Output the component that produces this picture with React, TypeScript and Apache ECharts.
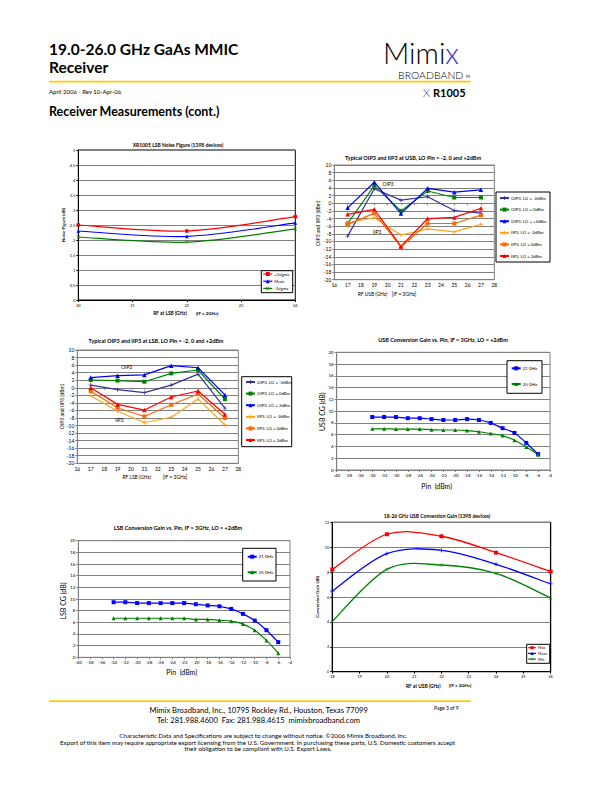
import React, { useEffect, useRef } from "react";
import * as echarts from "echarts";

// ---------- Chart 1: LSB Noise Figure ----------
const nfFreq = [20, 22, 24];
const nfPlus3 = [2.5, 2.3, 2.78];
const nfMean = [2.3, 2.12, 2.57];
const nfMinus3 = [2.1, 1.93, 2.37];

// ---------- Chart 2: USB OIP3 / IIP3 ----------
const ipFreq = [17, 19, 21, 23, 25, 27];
const usbOip3Lom2 = [-8.6, 3.8, 0.8, 1.7, -1.9, -2.6];
const usbOip3Lo0 = [-5.3, 4.6, -2.0, 3.2, 1.5, 1.5];
const usbOip3Lop2 = [-1.2, 5.5, -2.7, 3.9, 2.9, 3.5];
const usbIip3Lom2 = [-5.1, -3.8, -8.3, -6.7, -7.5, -5.5];
const usbIip3Lo0 = [-5.6, -2.6, -11.4, -5.3, -5.3, -3.1];
const usbIip3Lop2 = [-2.9, -1.6, -11.3, -4.0, -3.7, -1.3];

// ---------- Chart 3: LSB OIP3 / IIP3 ----------
const lsbOip3Lom2 = [0.7, -0.5, -1.3, 0.7, 3.6, -5.4];
const lsbOip3Lo0 = [2.05, 1.9, 1.6, 3.8, 4.7, -3.0];
const lsbOip3Lop2 = [2.7, 3.2, 3.4, 5.85, 5.3, -1.9];
const lsbIip3Lom2 = [-2.1, -6.2, -9.2, -7.8, -3.0, -9.8];
const lsbIip3Lo0 = [-0.9, -5.3, -7.6, -4.5, -1.65, -8.0];
const lsbIip3Lop2 = [0.0, -4.4, -5.9, -2.45, -0.85, -7.0];

// ---------- Chart 4 / 5: Conversion gain vs Pin ----------
const pinDbm = [-34, -32, -30, -28, -26, -24, -22, -20, -18, -16, -14, -12, -10, -8, -6];
const usbCg21 = [9.0, 9.0, 9.0, 8.8, 8.8, 8.65, 8.5, 8.5, 8.65, 8.5, 8.0, 7.1, 6.3, 4.6, 2.7];
const usbCg25 = [7.0, 7.0, 6.95, 6.95, 6.95, 6.85, 6.8, 6.8, 6.7, 6.5, 6.2, 5.85, 5.05, 3.9, 2.6];
const lsbCg21 = [9.45, 9.45, 9.3, 9.3, 9.3, 9.3, 9.3, 9.1, 8.9, 8.75, 8.3, 7.45, 6.3, 4.65, 2.6];
const lsbCg25 = [6.7, 6.7, 6.7, 6.7, 6.7, 6.7, 6.7, 6.5, 6.5, 6.35, 6.2, 5.7, 4.65, 2.9, 0.7];

// ---------- Chart 6: USB conversion gain (1398 devices) ----------
const cgFreq = [18, 20, 22, 24, 26];
const cgMax = [8.22, 11.04, 10.88, 9.56, 8.05];
const cgMean = [6.48, 9.48, 9.75, 8.63, 7.05];
const cgMin = [4.04, 8.22, 8.57, 7.9, 5.92];

const FONT = "Lato, 'Open Sans', sans-serif";
const PLUS = "path://M4,0H6V4H10V6H6V10H4V6H0V4H4Z";
const XMARK = "path://M0,1L1,0L5,4L9,0L10,1L6,5L10,9L9,10L5,6L1,10L0,9L4,5Z";

const C_SLATE = "#333399";
const C_GREEN = "#008000";
const C_BLUE = "#0000FF";
const C_YEL = "#FFA31A";
const C_ORG = "#FF6600";
const C_RED = "#FF0000";

function pairs(xs: number[], ys: number[]) {
  return xs.map((x, i) => [x, ys[i]]);
}

function txt(text: string, x: number, y: number, size: number, opts: any = {}) {
  const align = opts.align || "center";
  return {
    type: "text",
    x,
    y,
    rotation: opts.rotation || 0,
    z: 10,
    style: {
      text,
      x: 0,
      y: 0,
      fill: opts.color || "#000",
      fontSize: size,
      fontFamily: opts.family || FONT,
      fontWeight: opts.weight || "normal",
      align,
      textAlign: align,
      verticalAlign: "middle",
      textVerticalAlign: "middle",
      lineHeight: opts.lineHeight,
      rich: opts.rich,
    },
  };
}

function box(x: number, y: number, w: number, h: number) {
  return {
    type: "rect",
    z: 3,
    shape: { x, y, width: w, height: h },
    style: { fill: "#fff", stroke: "#000", lineWidth: 1 },
  };
}

function xAx(gi: number, min: number, max: number, interval: number, fs: number, color: string) {
  return {
    gridIndex: gi,
    type: "value",
    min,
    max,
    interval,
    axisLine: { show: true, lineStyle: { color, width: 1 } },
    axisTick: { show: true, length: 2, lineStyle: { color } },
    axisLabel: { fontSize: fs, color: "#000", margin: 3, fontFamily: FONT },
    splitLine: { show: false },
  };
}

function yAx(gi: number, min: number, max: number, interval: number, fs: number, color: string, gridColor: string) {
  return {
    gridIndex: gi,
    type: "value",
    min,
    max,
    interval,
    axisLine: { show: true, lineStyle: { color, width: 1 } },
    axisTick: { show: true, length: 2, lineStyle: { color } },
    axisLabel: { fontSize: fs, color: "#000", margin: 3, fontFamily: FONT },
    splitLine: { show: true, lineStyle: { color: gridColor, width: 1 } },
  };
}

function line(name: string, gi: number, xs: number[], ys: number[], color: string, symbol: string, size: number, smooth: any = false, width = 1.2, hideLine = false) {
  return {
    name,
    type: "line",
    xAxisIndex: gi,
    yAxisIndex: gi,
    data: pairs(xs, ys),
    smooth,
    symbol,
    symbolSize: size,
    showSymbol: true,
    z: 3,
    lineStyle: { color, width, opacity: hideLine ? 0 : 1 },
    itemStyle: { color, borderWidth: 0 },
  };
}

// Excel-style smoothed curve (Catmull-Rom through the data points), drawn via the axes' scales
function spline(gi: number, xs: number[], ys: number[], color: string, width = 1.2) {
  return {
    type: "custom",
    coordinateSystem: "cartesian2d",
    xAxisIndex: gi,
    yAxisIndex: gi,
    data: [[xs[0], ys[0]]],
    silent: true,
    z: 2,
    renderItem: (_params: any, api: any) => {
      const pts = xs.map((x, i) => api.coord([x, ys[i]]));
      let d = `M${pts[0][0]},${pts[0][1]}`;
      for (let i = 0; i < pts.length - 1; i++) {
        const p0 = pts[i - 1] || pts[i];
        const p1 = pts[i];
        const p2 = pts[i + 1];
        const p3 = pts[i + 2] || pts[i + 1];
        const c1x = p1[0] + (p2[0] - p0[0]) / 6;
        const c1y = p1[1] + (p2[1] - p0[1]) / 6;
        const c2x = p2[0] - (p3[0] - p1[0]) / 6;
        const c2y = p2[1] - (p3[1] - p1[1]) / 6;
        d += ` C${c1x},${c1y} ${c2x},${c2y} ${p2[0]},${p2[1]}`;
      }
      return {
        type: "path",
        shape: { pathData: d },
        style: { stroke: color, fill: "none", lineWidth: width },
      };
    },
  };
}

function leg(left: number, top: number, names: any[], ih: number, gap: number, fs: number, iw = 9) {
  return {
    left,
    top,
    orient: "vertical",
    data: names,
    itemWidth: iw,
    itemHeight: ih,
    itemGap: gap,
    padding: 0,
    selectedMode: false,
    z: 5,
    textStyle: { fontSize: fs, fontFamily: FONT, color: "#000", lineHeight: ih, padding: [0, 0, 0, -3] },
  };
}

function legItem(name: string, color: string) {
  return { name, lineStyle: { opacity: 1, color, width: 1.2 } };
}

const usbIpNames = ["OIP3, LO = -2dBm", "OIP3, LO = 0dBm", "OIP3, LO = +2dBm", "IIP3, LO = -2dBm", "IIP3, LO = 0dBm", "IIP3, LO = 2dBm"];
const lsbIpNames = ["OIP3, LO = -2dBm", "OIP3, LO = 0dBm", "OIP3, LO = 2dBm", "IIP3, LO = -2dBm", "IIP3, LO = 0dBm", "IIP3, LO = 2dBm"];

export default function App() {
  const ref = useRef<HTMLDivElement>(null);
  useEffect(() => {
    if (!ref.current) return;
    const chart = echarts.init(ref.current, undefined, { renderer: "svg" });
    const option: any = {
      animation: false,
      backgroundColor: "#fff",
      grid: [
        { left: 78.3, top: 150, width: 217, height: 150, show: true, borderColor: "#000", borderWidth: 1 },
        { left: 334.3, top: 165, width: 160, height: 114.7, show: true, borderColor: "#808080", borderWidth: 1 },
        { left: 77.3, top: 350, width: 161, height: 113.3, show: true, borderColor: "#808080", borderWidth: 1 },
        { left: 336.7, top: 352.3, width: 213.3, height: 117.7, show: true, borderColor: "#808080", borderWidth: 1 },
        { left: 78.3, top: 540.7, width: 211.7, height: 116.6, show: true, borderColor: "#808080", borderWidth: 1 },
        { left: 332.3, top: 522.3, width: 218.3, height: 149.4, show: true, borderColor: "#000", borderWidth: 1.3 },
      ],
      xAxis: [
        xAx(0, 20, 24, 1, 4, "#000"),
        xAx(1, 16, 28, 1, 5, "#808080"),
        xAx(2, 16, 28, 1, 5, "#808080"),
        xAx(3, -40, -4, 2, 4.5, "#808080"),
        xAx(4, -40, -4, 2, 4.5, "#808080"),
        xAx(5, 18, 26, 1, 4, "#000"),
      ],
      yAxis: [
        yAx(0, 0, 5, 0.5, 4, "#000", "#808080"),
        yAx(1, -20, 10, 2, 5, "#808080", "#808080"),
        yAx(2, -20, 10, 2, 5, "#808080", "#808080"),
        yAx(3, 0, 20, 2, 4.5, "#808080", "#808080"),
        yAx(4, 0, 20, 2, 4.5, "#808080", "#808080"),
        yAx(5, 0, 12, 2, 4, "#000", "#808080"),
      ],
      legend: [
        leg(262.7, 271.5, [legItem("+3sigma", C_RED), legItem("Mean", C_BLUE), legItem("-3sigma", C_GREEN)], 5, 2.2, 4),
        leg(499, 195.5, usbIpNames, 5, 6.6, 4.3),
        leg(245, 379.5, lsbIpNames, 5, 6.6, 4.3),
        leg(510.7, 365.8, ["21 GHz", "25 GHz"], 5, 10.7, 4.3),
        leg(246.7, 554.2, ["21 GHz", "25 GHz"], 5, 10.6, 4.3),
        leg(527.5, 645.7, [legItem("Max", C_RED), legItem("Mean", C_BLUE), legItem("Min", C_GREEN)], 4, 1.7, 3.6, 8),
      ],
      series: [
        spline(0, nfFreq, nfPlus3, C_RED),
        spline(0, nfFreq, nfMean, C_BLUE),
        spline(0, nfFreq, nfMinus3, C_GREEN),
        line("+3sigma", 0, nfFreq, nfPlus3, C_RED, "rect", 3.5, false, 1.2, true),
        line("Mean", 0, nfFreq, nfMean, C_BLUE, "triangle", 3.5, false, 1.2, true),
        line("-3sigma", 0, nfFreq, nfMinus3, C_GREEN, XMARK, 3.5, false, 1.2, true),

        line("OIP3, LO = -2dBm", 1, ipFreq, usbOip3Lom2, C_SLATE, PLUS, 4),
        line("OIP3, LO = 0dBm", 1, ipFreq, usbOip3Lo0, C_GREEN, "rect", 4),
        line("OIP3, LO = +2dBm", 1, ipFreq, usbOip3Lop2, C_BLUE, "triangle", 4.5),
        line("IIP3, LO = -2dBm", 1, ipFreq, usbIip3Lom2, C_YEL, PLUS, 4),
        line("IIP3, LO = 0dBm", 1, ipFreq, usbIip3Lo0, C_ORG, "rect", 4),
        line("IIP3, LO = 2dBm", 1, ipFreq, usbIip3Lop2, C_RED, "triangle", 4.5),

        line("OIP3, LO = -2dBm", 2, ipFreq, lsbOip3Lom2, C_SLATE, PLUS, 4),
        line("OIP3, LO = 0dBm", 2, ipFreq, lsbOip3Lo0, C_GREEN, "rect", 4),
        line("OIP3, LO = 2dBm", 2, ipFreq, lsbOip3Lop2, C_BLUE, "triangle", 4.5),
        line("IIP3, LO = -2dBm", 2, ipFreq, lsbIip3Lom2, C_YEL, PLUS, 4),
        line("IIP3, LO = 0dBm", 2, ipFreq, lsbIip3Lo0, C_ORG, "rect", 4),
        line("IIP3, LO = 2dBm", 2, ipFreq, lsbIip3Lop2, C_RED, "triangle", 4.5),

        line("21 GHz", 3, pinDbm, usbCg21, C_BLUE, "rect", 4, 0.3),
        line("25 GHz", 3, pinDbm, usbCg25, C_GREEN, "triangle", 4, 0.3),
        line("21 GHz", 4, pinDbm, lsbCg21, C_BLUE, "rect", 4, 0.3),
        line("25 GHz", 4, pinDbm, lsbCg25, C_GREEN, "triangle", 4, 0.3),

        spline(5, cgFreq, cgMax, C_RED, 1.3),
        spline(5, cgFreq, cgMean, C_BLUE, 1.3),
        spline(5, cgFreq, cgMin, C_GREEN, 1.3),
        line("Max", 5, cgFreq, cgMax, C_RED, "rect", 4, false, 1.2, true),
        line("Mean", 5, cgFreq, cgMean, C_BLUE, PLUS, 4, false, 1.2, true),
        line("Min", 5, cgFreq, cgMin, C_GREEN, XMARK, 3.5, false, 1.2, true),
      ],
      graphic: [
        // header
        txt("19.0-26.0 GHz GaAs MMIC", 49, 49, 15.5, { align: "left", weight: "bold" }),
        txt("Receiver", 49, 66.5, 15.5, { align: "left", weight: "bold" }),
        { type: "rect", z: 2, shape: { x: 49, y: 80.8, width: 421.7, height: 1.8 }, style: { fill: "#FFCC00" } },
        txt("April 2006 - Rev 10-Apr-06", 49, 91.7, 6, { align: "left" }),
        txt("Receiver Measurements (cont.)", 49, 111.7, 12.5, { align: "left", weight: "bold" }),
        txt("{a|Mimi}{b|x}", 383, 52, 29, {
          align: "left",
          lineHeight: 20,
          rich: {
            a: { fontSize: 29, fontWeight: 300, fontFamily: FONT, fill: "#000", color: "#000", lineHeight: 20 },
            b: { fontSize: 29, fontWeight: 300, fontFamily: FONT, fill: "#3333CC", color: "#3333CC", lineHeight: 20 },
          },
        }),
        txt("BROADBAND", 398, 74.8, 10.5, { align: "left", weight: 300, lineHeight: 9 }),
        txt("TM", 465.5, 76.5, 3, { align: "left" }),
        txt("X", 422.7, 92.3, 12, { align: "left", weight: 300, color: "#3333CC" }),
        txt("R1005", 433, 92.3, 11, { align: "left", weight: "bold" }),

        // chart 1
        txt("XR1005 LSB Noise Figure (1398 devices)", 178, 145, 5, { weight: "bold" }),
        txt("Noise Figure (dB)", 63, 225, 4.5, { weight: "bold", rotation: Math.PI / 2 }),
        txt("RF at LSB (GHz)", 170, 313.3, 4.8, { weight: "bold" }),
        txt("[IF = 2GHz]", 207, 313, 4.5, { weight: "bold" }),
        box(261.3, 270.7, 31.4, 22),

        // chart 2
        txt("Typical OIP3 and IIP3 at USB, LO Pin = -2, 0 and +2dBm", 413, 158.3, 5.5, { weight: "bold" }),
        txt("OIP3 and IIP3 (dBm)", 318, 223.3, 5.1, { rotation: Math.PI / 2 }),
        txt("RF USB (GHz)", 372.5, 294, 4.9),
        txt("[IF = 3GHz]", 404, 294, 4.9),
        txt("OIP3", 388, 184.3, 4.8),
        txt("IIP3", 377, 232.3, 4.8),
        box(496, 192, 54, 70),

        // chart 3
        txt("Typical OIP3 and IIP3 at LSB, LO Pin = -2, 0 and +2dBm", 156, 340.5, 5.5, { weight: "bold" }),
        txt("OIP3 and IIP3 (dBm)", 61.7, 406.7, 5.1, { rotation: Math.PI / 2 }),
        txt("RF LSB (GHz)", 136.7, 476.7, 4.9),
        txt("[IF = 3GHz]", 175, 476.7, 4.9),
        txt("OIP3", 126.7, 366.7, 4.8),
        txt("IIP3", 119.3, 420, 4.8),
        box(241.7, 376.7, 50, 70),

        // chart 4
        txt("USB Conversion Gain vs. Pin, IF = 3GHz, LO = +2dBm", 443, 340, 5.5, { weight: "bold" }),
        txt("USB CG (dB)", 321.7, 411.7, 7, { rotation: Math.PI / 2 }),
        txt("Pin  (dBm)", 436.7, 486, 7),
        box(507, 360.7, 35, 32.6),

        // chart 5
        txt("LSB Conversion Gain vs. Pin, IF = 3GHz, LO = +2dBm", 178, 527.7, 5.5, { weight: "bold" }),
        txt("LSB CG (dB)", 63.3, 601, 7, { rotation: Math.PI / 2 }),
        txt("Pin  (dBm)", 181.7, 672.3, 7),
        box(242.7, 548.3, 33.3, 32.7),

        // chart 6
        txt("18-26 GHz USB Conversion Gain (1398 devices)", 437, 516, 5, { weight: "bold" }),
        txt("Conversion Gain (dB)", 317.7, 596.7, 4.5, { weight: "bold", rotation: Math.PI / 2 }),
        txt("RF at USB (GHz)", 423.3, 686, 4.8, { weight: "bold" }),
        txt("[IF = 2GHz]", 460, 685.5, 4.5, { weight: "bold" }),
        box(526.7, 644.3, 23, 19),

        // footer
        { type: "rect", z: 2, shape: { x: 49, y: 700.2, width: 421.7, height: 1.8 }, style: { fill: "#FFCC00" } },
        txt("Mimix Broadband, Inc., 10795 Rockley Rd., Houston, Texas 77099", 258.7, 710, 7.6),
        txt("Tel: 281.988.4600  Fax: 281.988.4615  mimixbroadband.com", 258.5, 720.3, 7.6),
        txt("Page 3 of 9", 434, 708.3, 5, { align: "left" }),
        txt("Characteristic Data and Specifications are subject to change without notice. \u00A92006 Mimix Broadband, Inc.", 263.3, 735.3, 6.2),
        txt("Export of this item may require appropriate export licensing from the U.S. Government. In purchasing these parts, U.S. Domestic customers accept", 257.5, 742, 6.2),
        txt("their obligation to be compliant with U.S. Export Laws.", 258, 748.3, 6.2),
      ],
    };
    chart.setOption(option);
    return () => chart.dispose();
  }, []);
  return (
    <div
      ref={ref}
      style={{ position: "absolute", left: 0, top: 0, width: 612, height: 792, background: "#fff" }}
    />
  );
}
